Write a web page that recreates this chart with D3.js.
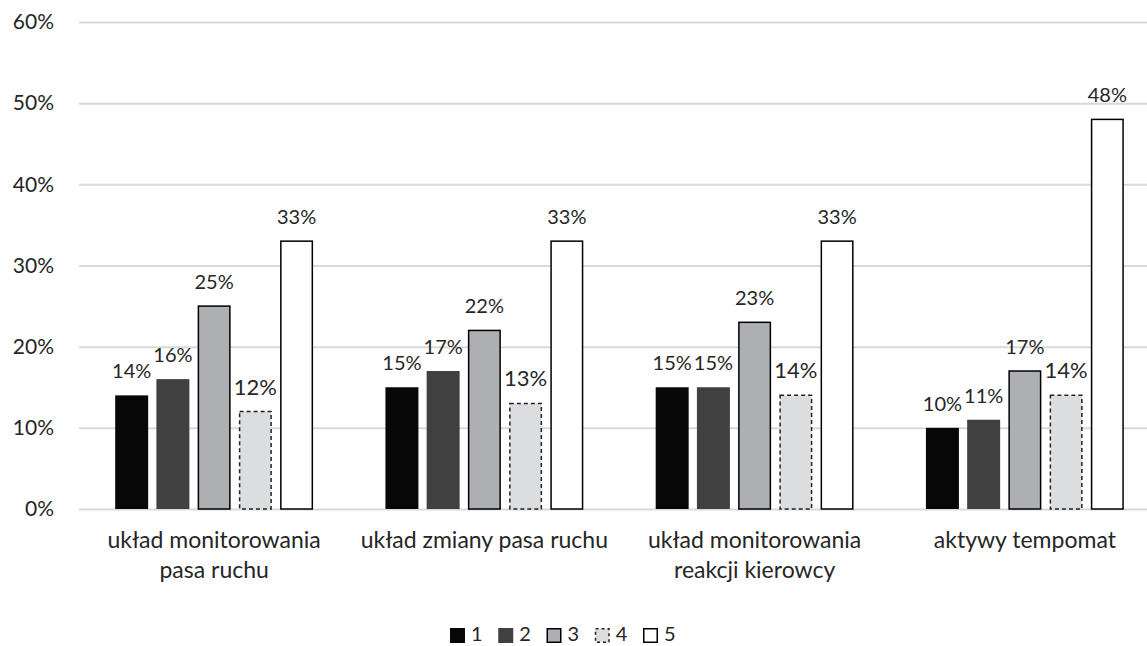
<!DOCTYPE html>
<html>
<head>
<meta charset="utf-8">
<script src="https://cdn.jsdelivr.net/npm/d3@7"></script>
<style>
  html, body { margin: 0; padding: 0; background: #fff; }
  svg { display: block; font-family: Lato, "Open Sans", sans-serif; }
</style>
</head>
<body>
<svg id="chart" width="1147" height="646"></svg>
<script>
const categories = [
  ["układ monitorowania", "pasa ruchu"],
  ["układ zmiany pasa ruchu"],
  ["układ monitorowania", "reakcji kierowcy"],
  ["aktywy tempomat"]
];
const seriesNames = ["1", "2", "3", "4", "5"];
const s1 = [14, 15, 15, 10];
const s2 = [16, 17, 15, 11];
const s3 = [25, 22, 23, 17];
const s4 = [12, 13, 14, 14];
const s5 = [33, 33, 33, 48];
const seriesValues = [s1, s2, s3, s4, s5];
const yTicks = [0, 10, 20, 30, 40, 50, 60];

const fills = ["#070707", "#404040", "#aeafb2", "#dcdddf", "#ffffff"];
const strokes = ["none", "none", "#000", "#222", "#000"];
const dashes = [null, null, null, "4,3", null];

const svg = d3.select("#chart");
const catIdx = categories.map((c, i) => i);

const x0 = d3.scaleBand().domain(catIdx).range([79, 1160]).padding(0);
const bw = x0.bandwidth();
const x1 = d3.scaleBand().domain(seriesNames)
  .range([bw * 0.1339, bw * (1 - 0.1339)]).paddingInner(0.2).paddingOuter(0);
const y = d3.scaleLinear().domain([0, 60]).range([509, 22]);

// gridlines + tick labels
const yAxis = d3.axisLeft(y).tickValues(yTicks).tickFormat(d => d + "%")
  .tickSize(-(1160 - 79)).tickPadding(25);
const gy = svg.append("g").attr("transform", "translate(79,0)").call(yAxis);
gy.select(".domain").remove();
gy.selectAll(".tick line").attr("stroke", "#d9d9d9").attr("stroke-width", 2);
gy.selectAll(".tick text").attr("fill", "#262626").attr("font-size", 21)
  .attr("font-family", "Lato, sans-serif");

// bars
const groups = svg.append("g").selectAll("g").data(catIdx).join("g")
  .attr("transform", i => `translate(${x0(i)},0)`);

groups.each(function(ci) {
  const g = d3.select(this);
  seriesNames.forEach((s, si) => {
    const v = seriesValues[si][ci];
    const hasStroke = strokes[si] !== "none";
    const r = g.append("rect")
      .attr("x", x1(s) + (hasStroke ? 0.75 : 0))
      .attr("y", y(v))
      .attr("width", x1.bandwidth() - (hasStroke ? 1.5 : 0))
      .attr("height", y(0) - y(v))
      .attr("fill", fills[si]);
    if (hasStroke) {
      r.attr("stroke", strokes[si]).attr("stroke-width", 1.5);
      if (dashes[si]) r.attr("stroke-dasharray", dashes[si]);
    }
    g.append("text")
      .attr("x", x1(s) + x1.bandwidth() / 2)
      .attr("y", y(v) - 17)
      .attr("text-anchor", "middle")
      .attr("font-size", si === 3 ? 22 : 20)
      .attr("fill", "#262626")
      .text(v + "%");
  });
});

// category labels
const catLabels = svg.append("g").selectAll("text").data(catIdx).join("text")
  .attr("x", i => x0(i) + bw / 2)
  .attr("y", 548)
  .attr("text-anchor", "middle")
  .attr("font-size", 23)
  .attr("fill", "#262626");
catLabels.each(function(i) {
  const t = d3.select(this);
  categories[i].forEach((line, li) => {
    t.append("tspan").attr("x", x0(i) + bw / 2).attr("y", 548 + li * 30).text(line);
  });
});

// legend
const legendX = d3.scalePoint().domain(seriesNames).range([450, 643]);
const lg = svg.append("g").selectAll("g").data(seriesNames).join("g")
  .attr("transform", s => `translate(${legendX(s)},0)`);
lg.each(function(s, si) {
  const g = d3.select(this);
  const hasStroke = strokes[si] !== "none";
  const r = g.append("rect").attr("x", hasStroke ? 0.75 : 0).attr("y", hasStroke ? 628.75 : 628)
    .attr("width", hasStroke ? 13.5 : 15).attr("height", hasStroke ? 13.5 : 15)
    .attr("fill", fills[si]);
  if (hasStroke) {
    r.attr("stroke", strokes[si]).attr("stroke-width", 1.5);
    if (dashes[si]) r.attr("stroke-dasharray", "3,3");
  }
  g.append("text").attr("x", 21).attr("y", 641).attr("font-size", 20)
    .attr("fill", "#262626").text(s);
});
</script>
</body>
</html>
